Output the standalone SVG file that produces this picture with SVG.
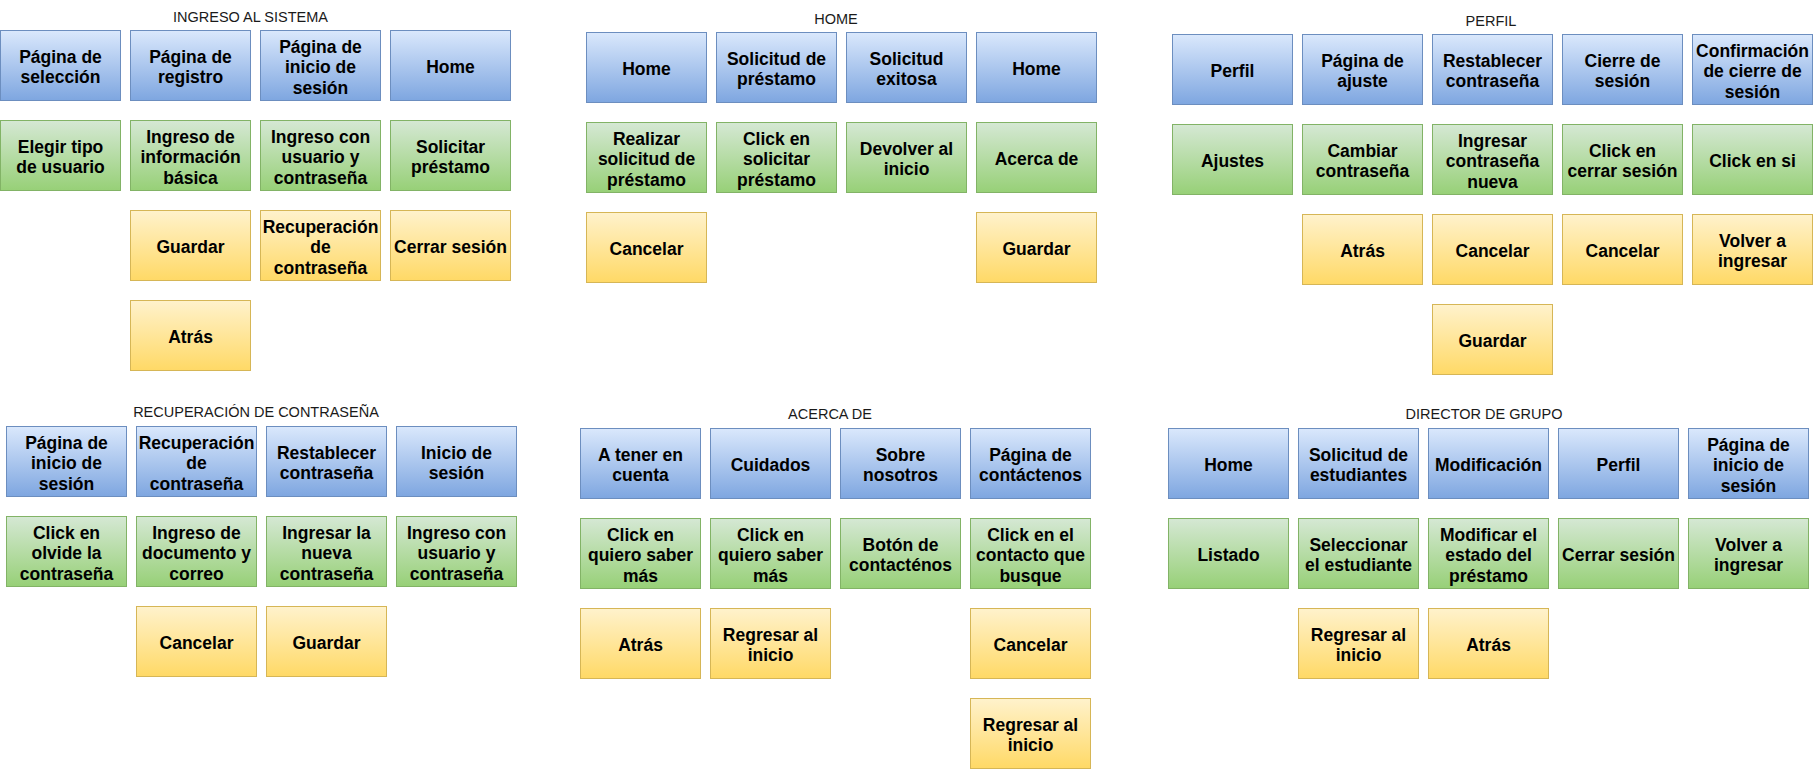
<svg xmlns="http://www.w3.org/2000/svg" width="1818" height="780" viewBox="0 0 1818 780">
<defs>
<linearGradient id="gBlue" x1="0" y1="0" x2="0" y2="1"><stop offset="0" stop-color="#dae8fc"/><stop offset="1" stop-color="#7ea6e0"/></linearGradient>
<linearGradient id="gGreen" x1="0" y1="0" x2="0" y2="1"><stop offset="0" stop-color="#d5e8d4"/><stop offset="1" stop-color="#97d077"/></linearGradient>
<linearGradient id="gYellow" x1="0" y1="0" x2="0" y2="1"><stop offset="0" stop-color="#fff2cc"/><stop offset="1" stop-color="#ffd966"/></linearGradient>
</defs>
<style>
rect{stroke-width:1}
.b{fill:url(#gBlue);stroke:#6c8ebf}
.g{fill:url(#gGreen);stroke:#82b366}
.y{fill:url(#gYellow);stroke:#d6b656}
text{font-family:"Liberation Sans",Arial,sans-serif;text-anchor:middle}
.t{font-size:17.5px;font-weight:bold;fill:#000}
.h{font-size:14.5px;font-weight:normal;fill:#1a1a1a}
</style>
<rect width="1818" height="780" fill="#ffffff"/>

<!-- INGRESO AL SISTEMA -->
<g id="title-ingreso"><text class="h" x="250.5" y="22">INGRESO AL SISTEMA</text></g>
<g id="s1-r1c1"><rect class="b" x="0.5" y="30.5" width="120" height="70"/><text class="t"><tspan x="60.5" y="62.75">Página de</tspan><tspan x="60.5" y="83.25">selección</tspan></text></g>
<g id="s1-r1c2"><rect class="b" x="130.5" y="30.5" width="120" height="70"/><text class="t"><tspan x="190.5" y="62.75">Página de</tspan><tspan x="190.5" y="83.25">registro</tspan></text></g>
<g id="s1-r1c3"><rect class="b" x="260.5" y="30.5" width="120" height="70"/><text class="t"><tspan x="320.5" y="52.5">Página de</tspan><tspan x="320.5" y="73">inicio de</tspan><tspan x="320.5" y="93.5">sesión</tspan></text></g>
<g id="s1-r1c4"><rect class="b" x="390.5" y="30.5" width="120" height="70"/><text class="t" x="450.5" y="73">Home</text></g>
<g id="s1-r2c1"><rect class="g" x="0.5" y="120.5" width="120" height="70"/><text class="t"><tspan x="60.5" y="152.75">Elegir tipo</tspan><tspan x="60.5" y="173.25">de usuario</tspan></text></g>
<g id="s1-r2c2"><rect class="g" x="130.5" y="120.5" width="120" height="70"/><text class="t"><tspan x="190.5" y="142.5">Ingreso de</tspan><tspan x="190.5" y="163">información</tspan><tspan x="190.5" y="183.5">básica</tspan></text></g>
<g id="s1-r2c3"><rect class="g" x="260.5" y="120.5" width="120" height="70"/><text class="t"><tspan x="320.5" y="142.5">Ingreso con</tspan><tspan x="320.5" y="163">usuario y</tspan><tspan x="320.5" y="183.5">contraseña</tspan></text></g>
<g id="s1-r2c4"><rect class="g" x="390.5" y="120.5" width="120" height="70"/><text class="t"><tspan x="450.5" y="152.75">Solicitar</tspan><tspan x="450.5" y="173.25">préstamo</tspan></text></g>
<g id="s1-r3c2"><rect class="y" x="130.5" y="210.5" width="120" height="70"/><text class="t" x="190.5" y="253">Guardar</text></g>
<g id="s1-r3c3"><rect class="y" x="260.5" y="210.5" width="120" height="70"/><text class="t"><tspan x="320.5" y="232.5">Recuperación</tspan><tspan x="320.5" y="253">de</tspan><tspan x="320.5" y="273.5">contraseña</tspan></text></g>
<g id="s1-r3c4"><rect class="y" x="390.5" y="210.5" width="120" height="70"/><text class="t" x="450.5" y="253">Cerrar sesión</text></g>
<g id="s1-r4c2"><rect class="y" x="130.5" y="300.5" width="120" height="70"/><text class="t" x="190.5" y="343">Atrás</text></g>

<!-- HOME -->
<g id="title-home"><text class="h" x="836" y="24">HOME</text></g>
<g id="s2-r1c1"><rect class="b" x="586.5" y="32.5" width="120" height="70"/><text class="t" x="646.5" y="75">Home</text></g>
<g id="s2-r1c2"><rect class="b" x="716.5" y="32.5" width="120" height="70"/><text class="t"><tspan x="776.5" y="64.75">Solicitud de</tspan><tspan x="776.5" y="85.25">préstamo</tspan></text></g>
<g id="s2-r1c3"><rect class="b" x="846.5" y="32.5" width="120" height="70"/><text class="t"><tspan x="906.5" y="64.75">Solicitud</tspan><tspan x="906.5" y="85.25">exitosa</tspan></text></g>
<g id="s2-r1c4"><rect class="b" x="976.5" y="32.5" width="120" height="70"/><text class="t" x="1036.5" y="75">Home</text></g>
<g id="s2-r2c1"><rect class="g" x="586.5" y="122.5" width="120" height="70"/><text class="t"><tspan x="646.5" y="144.5">Realizar</tspan><tspan x="646.5" y="165">solicitud de</tspan><tspan x="646.5" y="185.5">préstamo</tspan></text></g>
<g id="s2-r2c2"><rect class="g" x="716.5" y="122.5" width="120" height="70"/><text class="t"><tspan x="776.5" y="144.5">Click en</tspan><tspan x="776.5" y="165">solicitar</tspan><tspan x="776.5" y="185.5">préstamo</tspan></text></g>
<g id="s2-r2c3"><rect class="g" x="846.5" y="122.5" width="120" height="70"/><text class="t"><tspan x="906.5" y="154.75">Devolver al</tspan><tspan x="906.5" y="175.25">inicio</tspan></text></g>
<g id="s2-r2c4"><rect class="g" x="976.5" y="122.5" width="120" height="70"/><text class="t" x="1036.5" y="165">Acerca de</text></g>
<g id="s2-r3c1"><rect class="y" x="586.5" y="212.5" width="120" height="70"/><text class="t" x="646.5" y="255">Cancelar</text></g>
<g id="s2-r3c4"><rect class="y" x="976.5" y="212.5" width="120" height="70"/><text class="t" x="1036.5" y="255">Guardar</text></g>

<!-- PERFIL -->
<g id="title-perfil"><text class="h" x="1491" y="26">PERFIL</text></g>
<g id="s3-r1c1"><rect class="b" x="1172.5" y="34.5" width="120" height="70"/><text class="t" x="1232.5" y="77">Perfil</text></g>
<g id="s3-r1c2"><rect class="b" x="1302.5" y="34.5" width="120" height="70"/><text class="t"><tspan x="1362.5" y="66.75">Página de</tspan><tspan x="1362.5" y="87.25">ajuste</tspan></text></g>
<g id="s3-r1c3"><rect class="b" x="1432.5" y="34.5" width="120" height="70"/><text class="t"><tspan x="1492.5" y="66.75">Restablecer</tspan><tspan x="1492.5" y="87.25">contraseña</tspan></text></g>
<g id="s3-r1c4"><rect class="b" x="1562.5" y="34.5" width="120" height="70"/><text class="t"><tspan x="1622.5" y="66.75">Cierre de</tspan><tspan x="1622.5" y="87.25">sesión</tspan></text></g>
<g id="s3-r1c5"><rect class="b" x="1692.5" y="34.5" width="120" height="70"/><text class="t"><tspan x="1752.5" y="56.5">Confirmación</tspan><tspan x="1752.5" y="77">de cierre de</tspan><tspan x="1752.5" y="97.5">sesión</tspan></text></g>
<g id="s3-r2c1"><rect class="g" x="1172.5" y="124.5" width="120" height="70"/><text class="t" x="1232.5" y="167">Ajustes</text></g>
<g id="s3-r2c2"><rect class="g" x="1302.5" y="124.5" width="120" height="70"/><text class="t"><tspan x="1362.5" y="156.75">Cambiar</tspan><tspan x="1362.5" y="177.25">contraseña</tspan></text></g>
<g id="s3-r2c3"><rect class="g" x="1432.5" y="124.5" width="120" height="70"/><text class="t"><tspan x="1492.5" y="146.5">Ingresar</tspan><tspan x="1492.5" y="167">contraseña</tspan><tspan x="1492.5" y="187.5">nueva</tspan></text></g>
<g id="s3-r2c4"><rect class="g" x="1562.5" y="124.5" width="120" height="70"/><text class="t"><tspan x="1622.5" y="156.75">Click en</tspan><tspan x="1622.5" y="177.25">cerrar sesión</tspan></text></g>
<g id="s3-r2c5"><rect class="g" x="1692.5" y="124.5" width="120" height="70"/><text class="t" x="1752.5" y="167">Click en si</text></g>
<g id="s3-r3c2"><rect class="y" x="1302.5" y="214.5" width="120" height="70"/><text class="t" x="1362.5" y="257">Atrás</text></g>
<g id="s3-r3c3"><rect class="y" x="1432.5" y="214.5" width="120" height="70"/><text class="t" x="1492.5" y="257">Cancelar</text></g>
<g id="s3-r3c4"><rect class="y" x="1562.5" y="214.5" width="120" height="70"/><text class="t" x="1622.5" y="257">Cancelar</text></g>
<g id="s3-r3c5"><rect class="y" x="1692.5" y="214.5" width="120" height="70"/><text class="t"><tspan x="1752.5" y="246.75">Volver a</tspan><tspan x="1752.5" y="267.25">ingresar</tspan></text></g>
<g id="s3-r4c3"><rect class="y" x="1432.5" y="304.5" width="120" height="70"/><text class="t" x="1492.5" y="347">Guardar</text></g>

<!-- RECUPERACIÓN DE CONTRASEÑA -->
<g id="title-recuperacion"><text class="h" x="256" y="417">RECUPERACIÓN DE CONTRASEÑA</text></g>
<g id="s4-r1c1"><rect class="b" x="6.5" y="426.5" width="120" height="70"/><text class="t"><tspan x="66.5" y="448.5">Página de</tspan><tspan x="66.5" y="469">inicio de</tspan><tspan x="66.5" y="489.5">sesión</tspan></text></g>
<g id="s4-r1c2"><rect class="b" x="136.5" y="426.5" width="120" height="70"/><text class="t"><tspan x="196.5" y="448.5">Recuperación</tspan><tspan x="196.5" y="469">de</tspan><tspan x="196.5" y="489.5">contraseña</tspan></text></g>
<g id="s4-r1c3"><rect class="b" x="266.5" y="426.5" width="120" height="70"/><text class="t"><tspan x="326.5" y="458.75">Restablecer</tspan><tspan x="326.5" y="479.25">contraseña</tspan></text></g>
<g id="s4-r1c4"><rect class="b" x="396.5" y="426.5" width="120" height="70"/><text class="t"><tspan x="456.5" y="458.75">Inicio de</tspan><tspan x="456.5" y="479.25">sesión</tspan></text></g>
<g id="s4-r2c1"><rect class="g" x="6.5" y="516.5" width="120" height="70"/><text class="t"><tspan x="66.5" y="538.5">Click en</tspan><tspan x="66.5" y="559">olvide la</tspan><tspan x="66.5" y="579.5">contraseña</tspan></text></g>
<g id="s4-r2c2"><rect class="g" x="136.5" y="516.5" width="120" height="70"/><text class="t"><tspan x="196.5" y="538.5">Ingreso de</tspan><tspan x="196.5" y="559">documento y</tspan><tspan x="196.5" y="579.5">correo</tspan></text></g>
<g id="s4-r2c3"><rect class="g" x="266.5" y="516.5" width="120" height="70"/><text class="t"><tspan x="326.5" y="538.5">Ingresar la</tspan><tspan x="326.5" y="559">nueva</tspan><tspan x="326.5" y="579.5">contraseña</tspan></text></g>
<g id="s4-r2c4"><rect class="g" x="396.5" y="516.5" width="120" height="70"/><text class="t"><tspan x="456.5" y="538.5">Ingreso con</tspan><tspan x="456.5" y="559">usuario y</tspan><tspan x="456.5" y="579.5">contraseña</tspan></text></g>
<g id="s4-r3c2"><rect class="y" x="136.5" y="606.5" width="120" height="70"/><text class="t" x="196.5" y="649">Cancelar</text></g>
<g id="s4-r3c3"><rect class="y" x="266.5" y="606.5" width="120" height="70"/><text class="t" x="326.5" y="649">Guardar</text></g>

<!-- ACERCA DE -->
<g id="title-acerca"><text class="h" x="830" y="419">ACERCA DE</text></g>
<g id="s5-r1c1"><rect class="b" x="580.5" y="428.5" width="120" height="70"/><text class="t"><tspan x="640.5" y="460.75">A tener en</tspan><tspan x="640.5" y="481.25">cuenta</tspan></text></g>
<g id="s5-r1c2"><rect class="b" x="710.5" y="428.5" width="120" height="70"/><text class="t" x="770.5" y="471">Cuidados</text></g>
<g id="s5-r1c3"><rect class="b" x="840.5" y="428.5" width="120" height="70"/><text class="t"><tspan x="900.5" y="460.75">Sobre</tspan><tspan x="900.5" y="481.25">nosotros</tspan></text></g>
<g id="s5-r1c4"><rect class="b" x="970.5" y="428.5" width="120" height="70"/><text class="t"><tspan x="1030.5" y="460.75">Página de</tspan><tspan x="1030.5" y="481.25">contáctenos</tspan></text></g>
<g id="s5-r2c1"><rect class="g" x="580.5" y="518.5" width="120" height="70"/><text class="t"><tspan x="640.5" y="540.5">Click en</tspan><tspan x="640.5" y="561">quiero saber</tspan><tspan x="640.5" y="581.5">más</tspan></text></g>
<g id="s5-r2c2"><rect class="g" x="710.5" y="518.5" width="120" height="70"/><text class="t"><tspan x="770.5" y="540.5">Click en</tspan><tspan x="770.5" y="561">quiero saber</tspan><tspan x="770.5" y="581.5">más</tspan></text></g>
<g id="s5-r2c3"><rect class="g" x="840.5" y="518.5" width="120" height="70"/><text class="t"><tspan x="900.5" y="550.75">Botón de</tspan><tspan x="900.5" y="571.25">contacténos</tspan></text></g>
<g id="s5-r2c4"><rect class="g" x="970.5" y="518.5" width="120" height="70"/><text class="t"><tspan x="1030.5" y="540.5">Click en el</tspan><tspan x="1030.5" y="561">contacto que</tspan><tspan x="1030.5" y="581.5">busque</tspan></text></g>
<g id="s5-r3c1"><rect class="y" x="580.5" y="608.5" width="120" height="70"/><text class="t" x="640.5" y="651">Atrás</text></g>
<g id="s5-r3c2"><rect class="y" x="710.5" y="608.5" width="120" height="70"/><text class="t"><tspan x="770.5" y="640.75">Regresar al</tspan><tspan x="770.5" y="661.25">inicio</tspan></text></g>
<g id="s5-r3c4"><rect class="y" x="970.5" y="608.5" width="120" height="70"/><text class="t" x="1030.5" y="651">Cancelar</text></g>
<g id="s5-r4c4"><rect class="y" x="970.5" y="698.5" width="120" height="70"/><text class="t"><tspan x="1030.5" y="730.75">Regresar al</tspan><tspan x="1030.5" y="751.25">inicio</tspan></text></g>

<!-- DIRECTOR DE GRUPO -->
<g id="title-director"><text class="h" x="1484" y="419">DIRECTOR DE GRUPO</text></g>
<g id="s6-r1c1"><rect class="b" x="1168.5" y="428.5" width="120" height="70"/><text class="t" x="1228.5" y="471">Home</text></g>
<g id="s6-r1c2"><rect class="b" x="1298.5" y="428.5" width="120" height="70"/><text class="t"><tspan x="1358.5" y="460.75">Solicitud de</tspan><tspan x="1358.5" y="481.25">estudiantes</tspan></text></g>
<g id="s6-r1c3"><rect class="b" x="1428.5" y="428.5" width="120" height="70"/><text class="t" x="1488.5" y="471">Modificación</text></g>
<g id="s6-r1c4"><rect class="b" x="1558.5" y="428.5" width="120" height="70"/><text class="t" x="1618.5" y="471">Perfil</text></g>
<g id="s6-r1c5"><rect class="b" x="1688.5" y="428.5" width="120" height="70"/><text class="t"><tspan x="1748.5" y="450.5">Página de</tspan><tspan x="1748.5" y="471">inicio de</tspan><tspan x="1748.5" y="491.5">sesión</tspan></text></g>
<g id="s6-r2c1"><rect class="g" x="1168.5" y="518.5" width="120" height="70"/><text class="t" x="1228.5" y="561">Listado</text></g>
<g id="s6-r2c2"><rect class="g" x="1298.5" y="518.5" width="120" height="70"/><text class="t"><tspan x="1358.5" y="550.75">Seleccionar</tspan><tspan x="1358.5" y="571.25">el estudiante</tspan></text></g>
<g id="s6-r2c3"><rect class="g" x="1428.5" y="518.5" width="120" height="70"/><text class="t"><tspan x="1488.5" y="540.5">Modificar el</tspan><tspan x="1488.5" y="561">estado del</tspan><tspan x="1488.5" y="581.5">préstamo</tspan></text></g>
<g id="s6-r2c4"><rect class="g" x="1558.5" y="518.5" width="120" height="70"/><text class="t" x="1618.5" y="561">Cerrar sesión</text></g>
<g id="s6-r2c5"><rect class="g" x="1688.5" y="518.5" width="120" height="70"/><text class="t"><tspan x="1748.5" y="550.75">Volver a</tspan><tspan x="1748.5" y="571.25">ingresar</tspan></text></g>
<g id="s6-r3c2"><rect class="y" x="1298.5" y="608.5" width="120" height="70"/><text class="t"><tspan x="1358.5" y="640.75">Regresar al</tspan><tspan x="1358.5" y="661.25">inicio</tspan></text></g>
<g id="s6-r3c3"><rect class="y" x="1428.5" y="608.5" width="120" height="70"/><text class="t" x="1488.5" y="651">Atrás</text></g>
</svg>
